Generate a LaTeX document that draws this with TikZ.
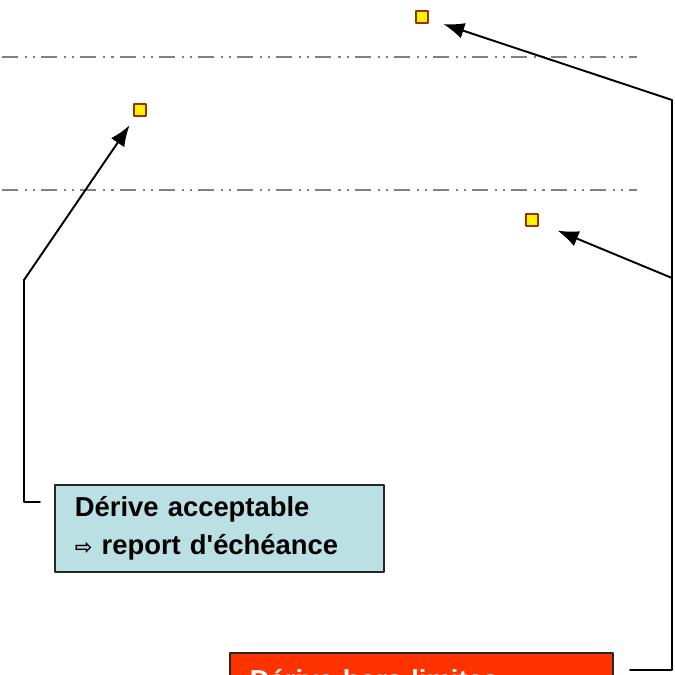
\documentclass[tikz,border=0pt]{standalone}
\usepackage{fontspec}
\setmainfont{Liberation Sans}
\newfontfamily\symfont{DejaVu Sans}
\usetikzlibrary{arrows.meta}
\definecolor{boxblue}{HTML}{BBE0E3}
\definecolor{boxred}{HTML}{FF3300}
\definecolor{markred}{HTML}{993300}

\begin{document}
\begin{tikzpicture}[x=0.02cm, y=-0.02cm, >={Latex[length=4.2mm,width=3.2mm]}, line join=round, line cap=round,
	seuil/.style={draw=gray, line width=1.3pt, line cap=butt, dash pattern=on 9.1pt off 4pt on 1.2pt off 3.4pt on 1.2pt off 3.4pt},
	jalon/.style={draw=markred, fill=yellow, line width=1.4pt, minimum size=6.6pt, inner sep=0pt},
	bulle/.style={draw=black!85, line width=1pt, font=\bfseries\fontsize{15.6}{22}\selectfont, align=left, anchor=north west, inner xsep=0.4cm},
	renvoi/.style={line width=1.1pt, ->}]
	\path[use as bounding box, clip] (0,0) rectangle (675,675);
	% seuils
	\draw[seuil] (2,57) -- (637,57);
	\draw[seuil] (2,190) -- (637,190);
	% jalons
	\node[jalon] (p1) at (422,17) {};
	\node[jalon] (p2) at (140,110) {};
	\node[jalon] (p3) at (532,220) {};
	% bulles
	\node[bulle, fill=boxblue, text width=5.78cm, minimum height=1.74cm] (acc) at (54,484)
		{Dérive acceptable\\{\symfont\fontsize{12}{22}\selectfont ⇨} report d\textquotesingle échéance};
	\node[bulle, fill=boxred, text=white, text width=6.86cm, inner ysep=0.34cm, text height=11pt, text depth=2cm] (hors) at (229,652)
		{Dérive hors limites};
	% renvois
	\coordinate (l0) at (40,502);
	\coordinate (l1) at (24,280);
	\coordinate (r0) at (630,670);
	\coordinate (r1) at (672,100);
	\coordinate (r2) at (672,278);
	\draw[renvoi, shorten >=0.2cm] (l0) -| (l1) -- (p2);
	\draw[renvoi, shorten >=0.3cm] (r0) -| (r1) -- (p1);
	\draw[renvoi, shorten >=0.4cm] (r2) -- (p3);
\end{tikzpicture}
\end{document}
